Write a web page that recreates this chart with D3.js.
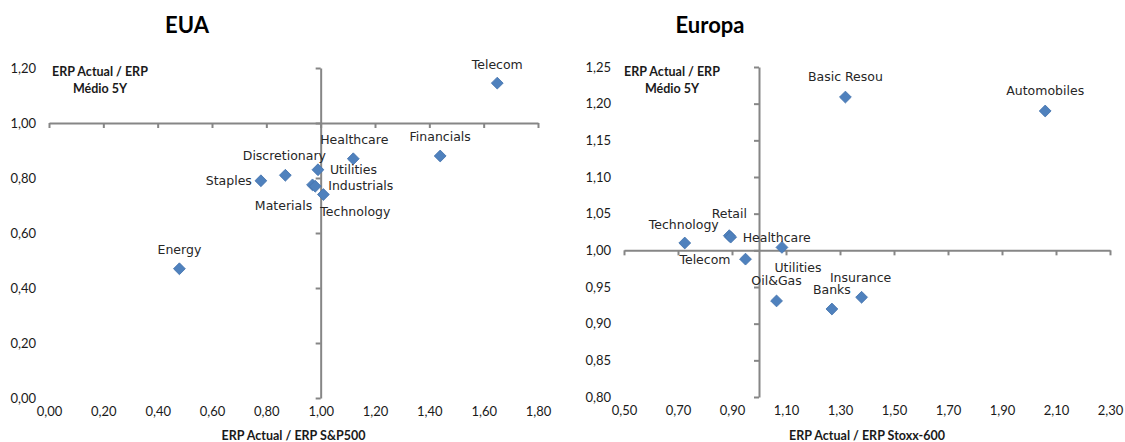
<!DOCTYPE html>
<html>
<head>
<meta charset="utf-8">
<script src="https://cdn.jsdelivr.net/npm/d3@7"></script>
<style>
  html, body { margin: 0; padding: 0; background: #ffffff; }
  svg { display: block; }
</style>
</head>
<body>
<svg id="chart" width="1125" height="442"></svg>
<script>
// ---- US sectors: ERP relative to S&P500 vs ERP relative to its 5Y average ----
const usSectors   = ["Telecom", "Financials", "Healthcare", "Utilities", "Discretionary",
                     "Staples", "Materials", "Industrials", "Technology", "Energy"];
const usErpVsIndex = [1.65, 1.44, 1.12, 0.99, 0.87, 0.78, 0.97, 0.98, 1.01, 0.48];
const usErpVs5y    = [1.145, 0.88, 0.87, 0.83, 0.81, 0.79, 0.775, 0.77, 0.74, 0.47];
const usXTicks = [0, 0.2, 0.4, 0.6, 0.8, 1.0, 1.2, 1.4, 1.6, 1.8];
const usYTicks = [0, 0.2, 0.4, 0.6, 0.8, 1.0, 1.2];

// ---- European sectors: ERP relative to Stoxx-600 vs ERP relative to its 5Y average ----
const euSectors    = ["Basic Resou", "Automobiles", "Technology", "Retail", "Healthcare",
                      "Utilities", "Telecom", "Oil&Gas", "Banks", "Insurance"];
const euErpVsIndex = [1.32, 2.06, 0.725, 0.89, 0.895, 1.085, 0.95, 1.065, 1.27, 1.38];
const euErpVs5y    = [1.209, 1.19, 1.01, 1.02, 1.018, 1.004, 0.988, 0.931, 0.92, 0.936];
const euXTicks = [0.5, 0.7, 0.9, 1.1, 1.3, 1.5, 1.7, 1.9, 2.1, 2.3];
const euYTicks = [0.80, 0.85, 0.90, 0.95, 1.00, 1.05, 1.10, 1.15, 1.20, 1.25];

// Where each data label sits relative to its marker: [dx, dy, text-anchor]
const usLabelPlacement = [
  [0, -19, "middle"], [0, -19, "middle"], [1, -19, "middle"], [12, 0, "start"],
  [-1, -20, "middle"], [-9, 0, "end"], [-29, 21, "middle"], [13, -1, "start"],
  [32, 17, "middle"], [0, -19, "middle"]
];
const euLabelPlacement = [
  [0, -20, "middle"], [0, -20, "middle"], [-1, -18, "middle"], [0, -22, "middle"],
  [12, 0, "start"], [16, 20, "middle"], [-15, 0, "end"], [0, -20, "middle"],
  [0, -19, "middle"], [-1, -20, "middle"]
];

const ptBr = d3.formatLocale({ decimal: ",", thousands: ".", grouping: [3], currency: ["", ""] });
const fmt2 = ptBr.format(".2f");

const svg = d3.select("#chart");
const AXIS_COLOR = "#868686";
const MARKER_COLOR = "#4F81BD";
const TICK_FONT = "Lato, 'Liberation Sans', sans-serif";
const LABEL_FONT = "'DejaVu Sans', sans-serif";

function drawPanel(p) {
  const g = svg.append("g");
  const x = d3.scaleLinear().domain(p.xDomain).range(p.xRange);
  const y = d3.scaleLinear().domain(p.yDomain).range(p.yRange);

  // Title
  g.append("text")
    .attr("x", p.titleX).attr("y", 33)
    .attr("text-anchor", "middle")
    .attr("font-family", TICK_FONT).attr("font-weight", 700)
    .attr("font-size", 22).attr("fill", "#000")
    .text(p.title);

  // Horizontal axis line crossing at y = 1,00 with small downward ticks
  const xAxisLine = g.append("g")
    .attr("transform", `translate(0,${y(p.cross[1])})`)
    .call(d3.axisBottom(x).tickValues(p.xTicks).tickSize(5).tickSizeOuter(0).tickFormat(""));
  // Vertical axis line crossing at x = 1,00 with small leftward ticks
  const yAxisLine = g.append("g")
    .attr("transform", `translate(${x(p.cross[0])},0)`)
    .call(d3.axisLeft(y).tickValues(p.yTicks).tickSize(5).tickSizeOuter(0).tickFormat(""));
  [xAxisLine, yAxisLine].forEach(a => {
    a.select(".domain").attr("stroke", AXIS_COLOR).attr("stroke-width", 2);
    a.selectAll(".tick line").attr("stroke", AXIS_COLOR).attr("stroke-width", 2);
  });

  // Tick labels at the low edge of the plot
  const xLabels = g.append("g")
    .attr("transform", `translate(0,${p.yRange[0]})`)
    .call(d3.axisBottom(x).tickValues(p.xTicks).tickSize(0).tickPadding(9).tickFormat(fmt2));
  const yLabels = g.append("g")
    .attr("transform", `translate(${p.xRange[0]},0)`)
    .call(d3.axisLeft(y).tickValues(p.yTicks).tickSize(0).tickPadding(13).tickFormat(fmt2));
  [xLabels, yLabels].forEach(a => {
    a.select(".domain").remove();
    a.selectAll("text").attr("font-family", TICK_FONT).attr("font-size", 13).attr("fill", "#1a1a1a");
  });

  // Axis titles
  g.append("text")
    .attr("x", (p.xRange[0] + p.xRange[1]) / 2).attr("y", 440)
    .attr("text-anchor", "middle")
    .attr("font-family", TICK_FONT).attr("font-weight", 700).attr("font-size", 12.5)
    .attr("fill", "#1a1a1a")
    .text(p.xTitle);
  const yt = g.append("text")
    .attr("text-anchor", "middle")
    .attr("font-family", TICK_FONT).attr("font-weight", 700).attr("font-size", 12.5)
    .attr("fill", "#1a1a1a");
  p.yTitle.forEach((line, i) => {
    yt.append("tspan").attr("x", p.yTitleX).attr("y", 76 + i * 17).text(line);
  });

  // Markers
  const diamond = d3.symbol().type(d3.symbolSquare).size(70);
  const pts = p.names.map((n, i) => ({ name: n, vx: p.vx[i], vy: p.vy[i], place: p.place[i] }));
  g.append("g").selectAll("path")
    .data(pts).join("path")
    .attr("d", diamond)
    .attr("transform", d => `translate(${x(d.vx)},${y(d.vy)}) rotate(45)`)
    .attr("fill", MARKER_COLOR)
    .attr("stroke", "#4474ae").attr("stroke-width", 0.8);

  // Data labels
  g.append("g").selectAll("text")
    .data(pts).join("text")
    .attr("x", d => x(d.vx) + d.place[0])
    .attr("y", d => y(d.vy) + d.place[1])
    .attr("dy", "0.35em")
    .attr("text-anchor", d => d.place[2])
    .attr("font-family", LABEL_FONT).attr("font-size", 12.5)
    .attr("fill", "#262626")
    .text(d => d.name);
}

drawPanel({
  title: "EUA", titleX: 187,
  xDomain: [0, 1.8], yDomain: [0, 1.2],
  xRange: [49, 538], yRange: [398, 68],
  cross: [1, 1],
  xTicks: usXTicks, yTicks: usYTicks,
  xTitle: "ERP Actual / ERP S&P500",
  yTitle: ["ERP Actual / ERP", "Médio 5Y"], yTitleX: 100,
  names: usSectors, vx: usErpVsIndex, vy: usErpVs5y, place: usLabelPlacement
});

drawPanel({
  title: "Europa", titleX: 710,
  xDomain: [0.5, 2.3], yDomain: [0.8, 1.25],
  xRange: [624, 1110], yRange: [397, 67],
  cross: [1, 1],
  xTicks: euXTicks, yTicks: euYTicks,
  xTitle: "ERP Actual / ERP Stoxx-600",
  yTitle: ["ERP Actual / ERP", "Médio 5Y"], yTitleX: 672,
  names: euSectors, vx: euErpVsIndex, vy: euErpVs5y, place: euLabelPlacement
});
</script>
</body>
</html>
